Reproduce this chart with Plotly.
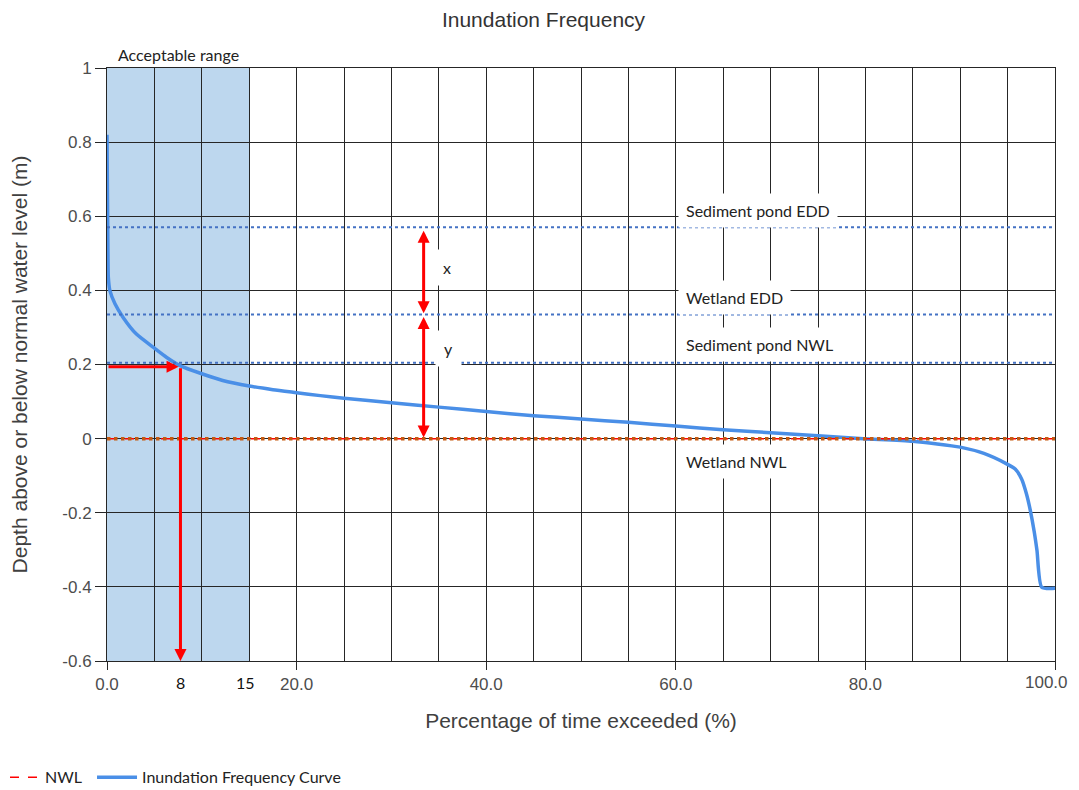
import plotly.graph_objects as go

# ---- data ----
pct_exceeded = [0, 0.05, 0.1, 0.14, 0.3, 0.84, 1.7, 3.1, 4.9, 6.3, 7.7, 10, 12.2, 15, 17.5, 20, 22.5, 25,
                30, 35, 40, 45, 50, 55, 60, 65, 70, 75, 79.8, 85, 90, 92.5, 94.9, 95.8, 96.5, 97.0,
                97.4, 97.8, 98.1, 98.6, 100]
depth_m = [0.82, 0.65, 0.5, 0.435, 0.40, 0.364, 0.327, 0.282, 0.246, 0.219, 0.197, 0.175, 0.157, 0.142,
           0.132, 0.124, 0.116, 0.109, 0.097, 0.085, 0.073, 0.062, 0.053, 0.044, 0.034, 0.024, 0.016,
           0.008, 0.0, -0.007, -0.023, -0.040, -0.068, -0.082, -0.110, -0.150, -0.194, -0.25, -0.302,
           -0.401, -0.404]

level_names = ["Sediment pond EDD", "Wetland EDD", "Sediment pond NWL", "Wetland NWL"]
level_values = [0.57, 0.335, 0.205, 0.0]
label_y = [0.615, 0.380, 0.254, -0.062]

nwl_value = 0.0
acceptable_range = [0, 15]
target_pct = 7.75
target_depth = 0.194

x_tickvals = [0, 20, 40, 60, 80, 100]
x_ticktext = ["0.0", "20.0", "40.0", "60.0", "80.0", ""]
last_x_label = "100.0"
y_tickvals = [1, 0.8, 0.6, 0.4, 0.2, 0, -0.2, -0.4, -0.6]
y_ticktext = ["1", "0.8", "0.6", "0.4", "0.2", "0", "-0.2", "-0.4", "-0.6"]

GRID = "#262626"
TICKFONT = dict(family="Liberation Sans, Arial", size=17, color="#4d4d4d")
LABELFONT = dict(family="Lato, Noto Sans", size=16, color="#222222")

fig = go.Figure()

# acceptable range shading (below grid)
fig.add_shape(type="rect", xref="x", yref="y", x0=acceptable_range[0], x1=acceptable_range[1],
              y0=-0.6, y1=1, fillcolor="#BDD7EE", line_width=0, layer="below")

# inundation frequency curve
fig.add_trace(go.Scatter(x=pct_exceeded, y=depth_m, mode="lines", name="Inundation Frequency Curve",
                         line=dict(color="#4a8fe7", width=3.5, shape="spline", smoothing=0.6),
                         legend="legend2"))

# dotted reference levels
for name, v in zip(level_names[:3], level_values[:3]):
    fig.add_trace(go.Scatter(x=[0, 100], y=[v, v], mode="lines", showlegend=False,
                             line=dict(color="#4472C4", width=2, dash="dot"), hoverinfo="skip"))

# NWL line
fig.add_trace(go.Scatter(x=[0, 100], y=[nwl_value, nwl_value], mode="lines", name="NWL",
                         line=dict(color="#ff0000", width=1.5, dash="dash"), legend="legend"))
fig.add_trace(go.Scatter(x=[0, 100], y=[nwl_value, nwl_value], mode="lines", showlegend=False,
                         line=dict(color="#C55A11", width=3.5, dash="dot"), hoverinfo="skip"))

# level labels with white boxes
for name, ly in zip(level_names, label_y):
    fig.add_annotation(x=60.2, y=ly, xref="x", yref="y", text=name, showarrow=False,
                       xanchor="left", yanchor="middle", bgcolor="white", borderpad=7,
                       font=LABELFONT)

# x / y labels
fig.add_annotation(x=35.9, y=0.461, xref="x", yref="y", text="x", showarrow=False,
                   bgcolor="white", borderpad=8, font=LABELFONT)
fig.add_annotation(x=36.0, y=0.243, xref="x", yref="y", text="y", showarrow=False,
                   bgcolor="white", borderpad=8, font=LABELFONT)

# acceptable range title
fig.add_annotation(x=0.9, y=1.022, xref="x", yref="paper", text="Acceptable range", showarrow=False,
                   xanchor="left", yanchor="middle", font=LABELFONT)

# extra x labels
fig.add_annotation(x=7.8, y=-0.036, xref="x", yref="paper", text="8", showarrow=False,
                   yanchor="middle", font=dict(family="Lato, Noto Sans", size=16, color="#111111"))
fig.add_annotation(x=14.6, y=-0.036, xref="x", yref="paper", text="15", showarrow=False,
                   yanchor="middle", font=dict(family="Lato, Noto Sans", size=16, color="#111111"))
# last x tick label, kept inside the visible page
fig.add_annotation(x=x_tickvals[-1], y=-0.037, xref="x", yref="paper", text=last_x_label,
                   showarrow=False, xanchor="right", xshift=15, yanchor="middle", font=TICKFONT)

# red arrows
arrow_common = dict(xref="x", yref="y", axref="x", ayref="y", text="", showarrow=True,
                    arrowcolor="#ff0000", arrowwidth=3, arrowhead=2, arrowsize=0.8, standoff=0,
                    startstandoff=0)
fig.add_annotation(x=target_pct - 0.2, y=target_depth, ax=0, ay=target_depth, **arrow_common)
fig.add_annotation(x=target_pct, y=-0.6, ax=target_pct, ay=target_depth, **arrow_common)
fig.add_annotation(x=33.4, y=level_values[1] + 0.003, ax=33.4, ay=level_values[0] - 0.005,
                   arrowside="end+start", startarrowhead=2, startarrowsize=0.8, **arrow_common)
fig.add_annotation(x=33.4, y=level_values[3] + 0.003, ax=33.4, ay=level_values[1] - 0.003,
                   arrowside="end+start", startarrowhead=2, startarrowsize=0.8, **arrow_common)

legend_font = dict(family="Lato, Noto Sans", size=16, color="#222222")

# page body has an 8px margin, so the figure is sized/offset to land on the reference layout
fig.update_layout(
    width=1071, height=782,
    margin=dict(l=99, r=24, t=60, b=129, autoexpand=False),
    paper_bgcolor="white", plot_bgcolor="white",
    title=dict(text="Inundation Frequency", x=0.5, xref="container", y=0.985, yref="container",
               yanchor="middle",
               font=dict(family="Liberation Sans, Arial", size=21, color="#333333")),
    showlegend=True,
    legend=dict(orientation="h", x=-0.1076, y=-0.196, xanchor="left", yanchor="middle",
                font=legend_font, bgcolor="rgba(0,0,0,0)"),
    legend2=dict(orientation="h", x=-0.0158, y=-0.196, xanchor="left", yanchor="middle",
                 itemwidth=40, font=legend_font, bgcolor="rgba(0,0,0,0)"),
)

fig.update_xaxes(range=[0, 100], tickvals=x_tickvals, ticktext=x_ticktext, ticks="outside", ticklen=8,
                 tickcolor=GRID, showgrid=True, gridcolor=GRID, gridwidth=1, zeroline=False,
                 showline=True, linecolor=GRID, mirror=True, tickfont=TICKFONT, automargin=False,
                 minor=dict(dtick=5, showgrid=True, gridcolor=GRID, gridwidth=1, ticks=""),
                 title=dict(text="Percentage of time exceeded (%)", standoff=19,
                            font=dict(family="Liberation Sans, Arial", size=21, color="#404040")))
fig.update_yaxes(range=[-0.6, 1], tickvals=y_tickvals, ticktext=y_ticktext, ticks="outside", ticklen=11,
                 tickcolor=GRID, showgrid=True, gridcolor=GRID, gridwidth=1, zeroline=False,
                 showline=True, linecolor=GRID, mirror=True, tickfont=TICKFONT, automargin=False,
                 title=dict(text="Depth above or below normal water level (m)", standoff=36,
                            font=dict(family="Liberation Sans, Arial", size=21, color="#404040")))

fig.write_html("out.html")
